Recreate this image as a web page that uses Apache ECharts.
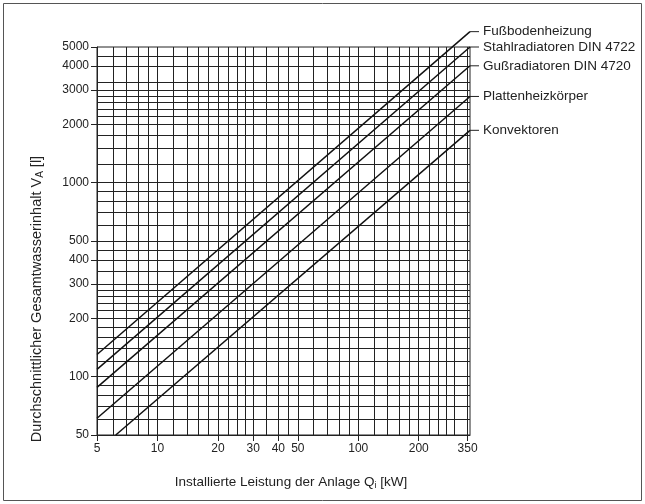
<!DOCTYPE html>
<html>
<head>
<meta charset="utf-8">
<script src="https://cdn.jsdelivr.net/npm/echarts@6/dist/echarts.min.js"></script>
<style>
  html, body { margin: 0; padding: 0; background: #fff; }
  #chart { width: 645px; height: 504px; }
</style>
</head>
<body>
<div id="chart"></div>
<script>
// Kurven: Anfangs- und Endpunkt je Heizflächenart (log-log Gerade)
const seriesNames = ["Fußbodenheizung", "Stahlradiatoren DIN 4722", "Gußradiatoren DIN 4720", "Plattenheizkörper", "Konvektoren"];
const startQ = [5, 5, 5, 5, 6.2];
const startV = [130, 109, 88, 61, 50];
const endQ = [360, 360, 360, 360, 360];
const endV = [6000, 5000, 4000, 2780, 1860];

// Achsbeschriftungen
const xLabels = [5, 10, 20, 30, 40, 50, 100, 200, 350];
const yLabels = [50, 100, 200, 300, 400, 500, 1000, 2000, 3000, 4000, 5000];

// Gitterlinien
const xGrid = [6, 7, 8, 9, 10, 12, 14, 16, 18, 20, 22.5, 25, 27.5, 30, 35, 40, 45, 50, 60, 70, 80, 90, 100,
  120, 140, 160, 180, 200, 225, 250, 275, 300, 350];
const yGrid = [60, 70, 80, 90, 100, 120, 140, 160, 180, 200, 220, 240, 260, 280, 300, 350, 400, 450, 500,
  600, 700, 800, 900, 1000, 1250, 1500, 1750, 2000, 2200, 2400, 2600, 2800, 3000, 3300, 4000, 4500];

const font = "'Liberation Sans', Arial, sans-serif";
const chart = echarts.init(document.getElementById("chart"));

const series = seriesNames.map((name, i) => ({
  name: name,
  type: "line",
  data: [[startQ[i], startV[i]], [endQ[i], endV[i]]],
  symbol: "none",
  clip: false,
  z: 5,
  lineStyle: { color: "#111", width: 1.5 },
  endLabel: {
    show: true,
    formatter: "{d|}{t|" + name + "}",
    distance: 0,
    rich: {
      d: { width: 9, height: 1, backgroundColor: "#222" },
      t: { fontFamily: font, fontSize: 13.5, color: "#222", padding: [0, 0, 0, 4] }
    }
  },
  animation: false
}));

series.push({
  type: "line",
  data: [],
  silent: true,
  markLine: {
    silent: true,
    symbol: "none",
    animation: false,
    label: { show: false },
    lineStyle: { color: "#222", width: 1, type: "solid" },
    data: xGrid.map(v => ({ xAxis: v })).concat(yGrid.map(v => ({ yAxis: v })))
  }
});

chart.setOption({
  animation: false,
  graphic: [{
    type: "rect",
    shape: { x: 3.5, y: 3.5, width: 638, height: 497 },
    style: { fill: "none", stroke: "#555", lineWidth: 1 }
  }],
  grid: {
    left: 97, right: 175, top: 47, bottom: 69,
    show: true, borderColor: "#222", borderWidth: 1
  },
  xAxis: {
    type: "log",
    logBase: 10,
    min: 5,
    max: 360,
    name: "{a|Installierte Leistung der Anlage Q}{s|i}{a| [kW]}",
    nameLocation: "middle",
    nameGap: 40,
    nameTextStyle: {
      padding: [0, 0, 0, 15],
      rich: {
        a: { fontFamily: font, fontSize: 13.5, color: "#222" },
        s: { fontFamily: font, fontSize: 9, color: "#222", verticalAlign: "bottom", padding: [6, 0, 0, 0] }
      }
    },
    axisLine: { show: true, lineStyle: { color: "#222", width: 1 } },
    axisTick: { show: true, length: 6, customValues: xLabels, lineStyle: { color: "#222" } },
    axisLabel: { customValues: xLabels, formatter: v => String(v), fontFamily: font, fontSize: 12, color: "#222", margin: 8 },
    splitLine: { show: false },
    minorTick: { show: false }
  },
  yAxis: {
    type: "log",
    logBase: 10,
    min: 50,
    max: 5000,
    name: "{a|Durchschnittlicher Gesamtwasserinhalt V}{s|A}{a| [l]}",
    nameLocation: "middle",
    nameGap: 52,
    nameRotate: 90,
    nameTextStyle: {
      padding: [0, 116, 0, 0],
      rich: {
        a: { fontFamily: font, fontSize: 14.5, color: "#222" },
        s: { fontFamily: font, fontSize: 10, color: "#222", verticalAlign: "bottom", padding: [6, 0, 0, 0] }
      }
    },
    axisLine: { show: true, lineStyle: { color: "#222", width: 1 } },
    axisTick: { show: true, length: 6, customValues: yLabels, lineStyle: { color: "#222" } },
    axisLabel: { customValues: yLabels, formatter: v => String(v), fontFamily: font, fontSize: 12, color: "#222", margin: 8 },
    splitLine: { show: false },
    minorTick: { show: false }
  },
  series: series
});
</script>
</body>
</html>
